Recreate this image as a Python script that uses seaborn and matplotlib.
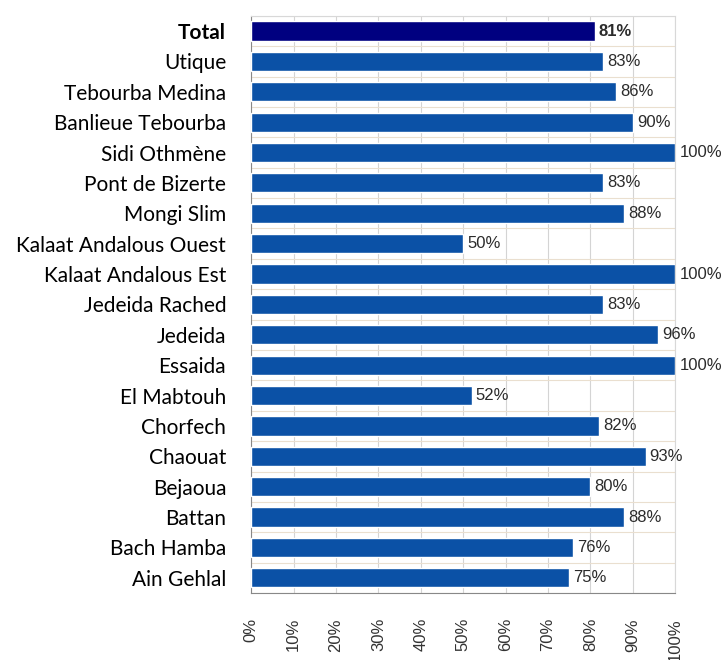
import numpy as np
import pandas as pd
import seaborn as sns
import matplotlib.pyplot as plt
from matplotlib.ticker import MultipleLocator, PercentFormatter

# categories top to bottom, as on the chart
places = ["Total", "Utique", "Tebourba Medina", "Banlieue Tebourba", "Sidi Othmène",
          "Pont de Bizerte", "Mongi Slim", "Kalaat Andalous Ouest", "Kalaat Andalous Est",
          "Jedeida Rached", "Jedeida", "Essaida", "El Mabtouh", "Chorfech", "Chaouat",
          "Bejaoua", "Battan", "Bach Hamba", "Ain Gehlal"]
rates = [81, 83, 86, 90, 100, 83, 88, 50, 100, 83, 96, 100, 52, 82, 93, 80, 88, 76, 75]

total_color = "#000080"
bar_color = "#0B51A6"

df = pd.DataFrame({"place": places, "rate": rates})
palette = {p: (total_color if p == "Total" else bar_color) for p in places}

sns.set_style("white")
plt.rcParams["font.family"] = ["Liberation Sans", "DejaVu Sans"]

fig = plt.figure(figsize=(7.26, 6.6), dpi=100)
ax = fig.add_axes([0.346, 0.1015, 0.584, 0.8745])

sns.barplot(data=df, y="place", x="rate", hue="place", palette=palette,
            orient="h", width=0.63, legend=False, saturation=1, ax=ax, zorder=3)

ax.set_xlim(0, 100)
ax.set_ylim(len(places) - 0.5, -0.5)
ax.xaxis.set_major_locator(MultipleLocator(10))
ax.xaxis.set_minor_locator(MultipleLocator(2))
ax.xaxis.set_major_formatter(PercentFormatter(decimals=0))
ax.grid(axis="x", which="major", color="#d4d4d4", lw=0.8, zorder=0)

# horizontal separators between categories
ax.set_yticks(np.arange(len(places)))
ax.set_yticks(np.arange(len(places) + 1) - 0.5, minor=True)
ax.grid(axis="y", which="minor", color="#eadfcf", lw=0.8, zorder=0)
ax.tick_params(axis="y", which="major", length=0, pad=18)
ax.tick_params(axis="y", which="minor", length=5, color="#888888", width=0.8)
ax.tick_params(axis="x", which="major", length=10, color="#888888", width=0.8, pad=8,
               labelrotation=90, labelsize=12, labelcolor="#333333")
ax.tick_params(axis="x", which="minor", length=6, color="#999999", width=0.6)

for lab in ax.get_yticklabels():
    lab.set_family(["Lato", "DejaVu Sans"])
    lab.set_fontsize(15)
    lab.set_color("black")
    if lab.get_text() == "Total":
        lab.set_fontweight("bold")

for c in ax.containers:
    texts = ax.bar_label(c, fmt="%.0f%%", padding=3, fontsize=12, color="#2b2b2b")
    for t, bar in zip(texts, c):
        if abs(bar.get_y() + bar.get_height() / 2) < 0.01:
            t.set_fontweight("bold")

for side in ["top", "right"]:
    ax.spines[side].set_color("#d8d8d8")
    ax.spines[side].set_linewidth(0.8)
ax.spines["left"].set_color("#888888")
ax.spines["bottom"].set_color("#888888")
ax.set_xlabel("")
ax.set_ylabel("")

fig.savefig("out.png", dpi=100)
